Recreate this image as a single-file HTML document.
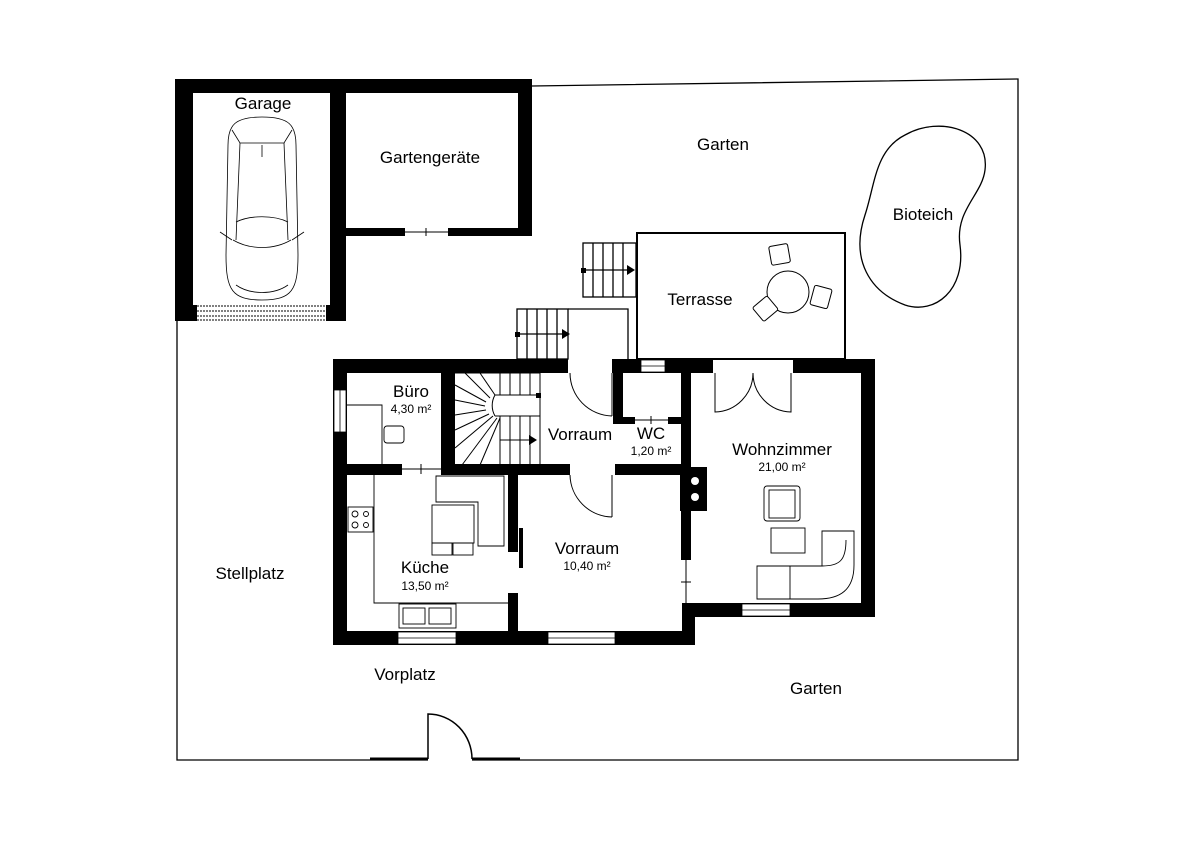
<!DOCTYPE html>
<html><head><meta charset="utf-8"><style>
html,body{margin:0;padding:0;background:#fff;}
svg{display:block;}
text{font-family:"Liberation Sans",sans-serif;fill:#000;}
</style></head><body>
<svg width="1200" height="848" viewBox="0 0 1200 848" xmlns="http://www.w3.org/2000/svg">
<rect width="1200" height="848" fill="#fff"/>
<g fill="none" stroke="#000" stroke-width="1.3">
<polyline points="532,86 1018,79 1018,760 472,760"/>
<polyline points="428,760 177,760 177,321"/>
</g>
<g stroke="#000" stroke-width="3"><line x1="370" y1="759" x2="428" y2="759"/><line x1="472" y1="759" x2="520" y2="759"/></g>
<path d="M428,759 V714 A44,45 0 0 1 472,759" fill="none" stroke="#000" stroke-width="1.5"/>

<g fill="#000">
<rect x="175" y="79" width="357" height="14"/>
<rect x="175" y="79" width="18" height="242"/>
<rect x="330" y="79" width="16" height="242"/>
<rect x="518" y="79" width="14" height="157"/>
<rect x="346" y="228" width="59" height="8"/>
<rect x="448" y="228" width="84" height="8"/>
<rect x="175" y="305" width="22" height="16"/>
<rect x="326" y="305" width="20" height="16"/>
</g>
<g stroke="#000" stroke-width="1"><line x1="405" y1="232" x2="448" y2="232"/><line x1="426" y1="228" x2="426" y2="236"/></g>
<g stroke="#000" stroke-width="1" stroke-dasharray="2,1"><line x1="197" y1="306" x2="326" y2="306"/><line x1="197" y1="311" x2="326" y2="311"/><line x1="197" y1="316" x2="326" y2="316"/><line x1="197" y1="320" x2="326" y2="320"/></g>
<g fill="none" stroke="#000" stroke-width="0.8">
<path d="M262,117 C235,117 228,125 228,145 L226,255 C226,290 232,300 262,300 C292,300 298,290 298,255 L296,145 C296,125 289,117 262,117 Z"/>
<path d="M232,130 L240,143 L284,143 L292,130"/>
<path d="M240,143 L236,240 M284,143 L288,240"/>
<path d="M236,222 C250,215 274,215 288,222"/>
<path d="M233,240 C250,250 274,250 291,240"/>
<line x1="262" y1="145" x2="262" y2="157"/>
<path d="M220,232 L232,240 M304,232 L292,240"/>
<path d="M236,285 C250,295 274,295 288,285"/>
</g>

<g fill="none" stroke="#000" stroke-width="1.3">
<rect x="517" y="309" width="51" height="50"/>
<line x1="527" y1="309" x2="527" y2="359"/><line x1="537" y1="309" x2="537" y2="359"/><line x1="547" y1="309" x2="547" y2="359"/><line x1="557" y1="309" x2="557" y2="359"/>
<polyline points="568,309 628,309 628,359"/>
<line x1="520" y1="334" x2="562" y2="334"/>
<rect x="583" y="243" width="53" height="54"/>
<line x1="593" y1="243" x2="593" y2="297"/><line x1="603" y1="243" x2="603" y2="297"/><line x1="613" y1="243" x2="613" y2="297"/><line x1="623" y1="243" x2="623" y2="297"/>
<line x1="586" y1="270" x2="628" y2="270"/>
</g>
<rect x="515" y="332" width="5" height="5"/><path d="M562,329 L570,334 L562,339Z"/>
<rect x="581" y="268" width="5" height="5"/><path d="M627,265 L635,270 L627,275Z"/>
<rect x="637" y="233" width="208" height="126" fill="none" stroke="#000" stroke-width="2"/>
<g fill="#fff" stroke="#000" stroke-width="1">
<circle cx="788" cy="292" r="21"/>
<rect x="770" y="245" width="19" height="19" rx="2" transform="rotate(-10 779 254)"/>
<rect x="812" y="287" width="18" height="20" rx="2" transform="rotate(15 821 297)"/>
<rect x="756" y="300" width="19" height="18" rx="2" transform="rotate(-40 765 309)"/>
</g>
<path d="M905,135 C940,115 990,130 985,170 C982,195 955,210 960,245 C966,290 935,315 905,305 C870,292 850,260 865,215 C875,185 875,150 905,135 Z" fill="none" stroke="#000" stroke-width="1.3"/>

<g fill="#000">
<rect x="333" y="359" width="235" height="14"/>
<rect x="612" y="359" width="101" height="14"/>
<rect x="793" y="359" width="82" height="14"/>
<rect x="861" y="359" width="14" height="258"/>
<rect x="682" y="603" width="193" height="14"/>
<rect x="333" y="359" width="14" height="286"/>
<rect x="333" y="631" width="362" height="14"/>
<rect x="682" y="603" width="13" height="42"/>
<rect x="441" y="373" width="14" height="100"/>
<rect x="347" y="464" width="55" height="11"/>
<rect x="441" y="464" width="129" height="11"/>
<rect x="615" y="464" width="70" height="11"/>
<rect x="508" y="472" width="10" height="80"/>
<rect x="508" y="593" width="10" height="40"/>
<rect x="613" y="373" width="10" height="51"/>
<rect x="613" y="417" width="22" height="7"/>
<rect x="668" y="417" width="16" height="7"/>
<rect x="681" y="373" width="10" height="187"/>
<rect x="680" y="467" width="27" height="44"/>
<rect x="519" y="528" width="4" height="40"/>
</g>
<g fill="#fff"><circle cx="695" cy="481" r="4"/><circle cx="695" cy="497" r="4"/></g>
<g fill="#fff" stroke="#000" stroke-width="0.8">
<rect x="641" y="360" width="24" height="12"/>
<rect x="742" y="604" width="48" height="12"/>
<rect x="398" y="632" width="58" height="12"/>
<rect x="548" y="632" width="67" height="12"/>
<rect x="334" y="390" width="12" height="42"/>
</g>
<g stroke="#000" stroke-width="0.8">
<line x1="641" y1="366" x2="665" y2="366"/><line x1="742" y1="610" x2="790" y2="610"/>
<line x1="398" y1="638" x2="456" y2="638"/><line x1="548" y1="638" x2="615" y2="638"/>
<line x1="340" y1="390" x2="340" y2="432"/>
</g>
<g fill="none" stroke="#000" stroke-width="1">
<line x1="402" y1="469" x2="441" y2="469"/><line x1="421" y1="464" x2="421" y2="474"/>
<line x1="635" y1="420" x2="668" y2="420"/><line x1="651" y1="416" x2="651" y2="424"/>
<line x1="686" y1="560" x2="686" y2="603"/><line x1="681" y1="582" x2="691" y2="582"/>
<path d="M570,373 A43,43 0 0 0 612,416 M612,373 V416"/>
<path d="M570,475 A43,43 0 0 0 612,517 M612,475 V517"/>
<path d="M715,373 V412 A39,39 0 0 0 753,373 M791,373 V412 A39,39 0 0 1 753,373"/>
</g>
<g fill="none" stroke="#000" stroke-width="1">
<line x1="455" y1="373" x2="540" y2="373"/>
<line x1="540" y1="373" x2="540" y2="465"/>
<polyline points="495,395 540,395"/><polyline points="495,416 540,416"/>
<path d="M495,395 A21,21 0 0 0 495,416"/>
<line x1="500" y1="373" x2="500" y2="395"/><line x1="510" y1="373" x2="510" y2="395"/><line x1="520" y1="373" x2="520" y2="395"/><line x1="530" y1="373" x2="530" y2="395"/>
<line x1="500" y1="416" x2="500" y2="465"/><line x1="510" y1="416" x2="510" y2="465"/><line x1="520" y1="416" x2="520" y2="465"/><line x1="530" y1="416" x2="530" y2="465"/>
<line x1="480" y1="373" x2="495" y2="395"/><line x1="465" y1="373" x2="490" y2="398"/><line x1="455" y1="385" x2="486" y2="402"/><line x1="455" y1="400" x2="485" y2="406"/>
<line x1="455" y1="415" x2="486" y2="410"/><line x1="455" y1="430" x2="489" y2="414"/><line x1="455" y1="448" x2="493" y2="416"/><line x1="462" y1="465" x2="497" y2="418"/><line x1="480" y1="465" x2="500" y2="418"/>
<line x1="500" y1="440" x2="532" y2="440"/>
</g>
<rect x="536" y="393" width="5" height="5"/><path d="M529,435 L537,440 L529,445Z"/>
<g fill="none" stroke="#000" stroke-width="0.9">
<polyline points="374,475 374,603 508,603"/>
<rect x="348" y="507" width="25" height="25"/>
<circle cx="355" cy="514" r="3"/><circle cx="366" cy="514" r="2.5"/><circle cx="355" cy="525" r="3"/><circle cx="366" cy="525" r="2.5"/>
<rect x="399" y="604" width="57" height="24"/>
<rect x="403" y="608" width="22" height="16"/><rect x="429" y="608" width="22" height="16"/>
<path d="M436,476 H504 V546 H478 V502 H436 Z"/>
<rect x="432" y="505" width="42" height="38"/>
<rect x="432" y="543" width="20" height="12"/><rect x="453" y="543" width="20" height="12"/>
<polyline points="347,405 382,405 382,464"/>
<rect x="384" y="426" width="20" height="17" rx="3"/>
</g>
<g fill="none" stroke="#000" stroke-width="0.9">
<rect x="764" y="486" width="36" height="35" rx="3"/>
<rect x="769" y="490" width="26" height="28"/>
<rect x="771" y="528" width="34" height="25"/>
<path d="M757,566 H822 V531 H854 V565 C854,590 840,599 818,599 H757 Z"/>
<line x1="790" y1="566" x2="790" y2="599"/>
<path d="M822,566 C840,566 846,560 846,540"/>
</g>
<g font-size="17" text-anchor="middle">
<text x="263" y="109">Garage</text>
<text x="430" y="163">Gartengeräte</text>
<text x="723" y="150">Garten</text>
<text x="923" y="220">Bioteich</text>
<text x="700" y="305">Terrasse</text>
<text x="411" y="397">Büro</text>
<text x="580" y="440">Vorraum</text>
<text x="651" y="439">WC</text>
<text x="782" y="455">Wohnzimmer</text>
<text x="587" y="554">Vorraum</text>
<text x="425" y="573">Küche</text>
<text x="250" y="579">Stellplatz</text>
<text x="405" y="680">Vorplatz</text>
<text x="816" y="694">Garten</text>
</g>
<g font-size="12" text-anchor="middle">
<text x="411" y="413">4,30 m²</text>
<text x="651" y="455">1,20 m²</text>
<text x="782" y="471">21,00 m²</text>
<text x="587" y="570">10,40 m²</text>
<text x="425" y="590">13,50 m²</text>
</g>
<text x="873" y="606" font-size="7" transform="rotate(-90 873 606)">McGrundriss</text>
</svg>
</body></html>
